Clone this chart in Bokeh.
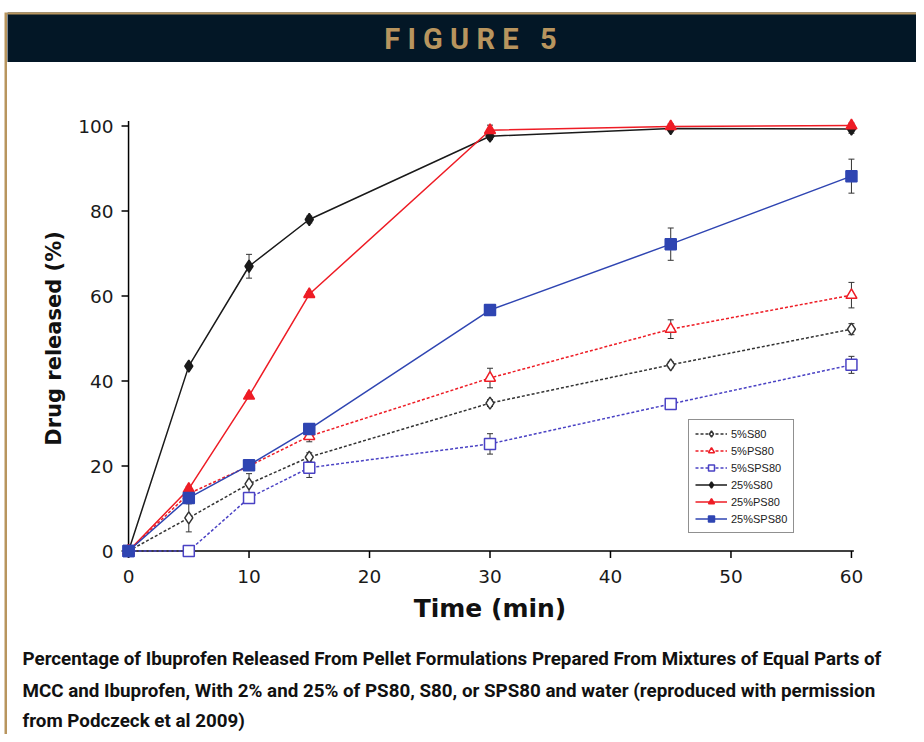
from bokeh.plotting import figure
from bokeh.models import Range1d, ColumnDataSource, Whisker, TeeHead, Legend, LegendItem, Spacer
from bokeh.layouts import row, column
from bokeh.core.properties import value
from bokeh.embed import file_html
from bokeh.resources import INLINE

# ---------------- data ----------------
time_min = [0, 5, 10, 15, 30, 45, 60]

pct_5_S80 = [0, 7.8, 15.8, 22.1, 34.8, 43.8, 52.2]
err_5_S80 = [0, 3.3, 2.4, 1.0, 0.8, 0.7, 1.3]
pct_5_PS80 = [0, 13.5, 20.0, 27.0, 40.7, 52.2, 60.2]
err_5_PS80 = [0, 0.8, 0.8, 1.3, 2.3, 2.2, 3.0]
pct_5_SPS80 = [0, 0, 12.5, 19.6, 25.2, 34.6, 43.8]
err_5_SPS80 = [0, 0, 1.0, 2.3, 2.4, 0.7, 2.0]
pct_25_S80 = [0, 43.5, 67.0, 78.0, 97.6, 99.4, 99.3]
err_25_S80 = [0, 0.5, 2.8, 0.8, 0.8, 0.5, 1.0]
pct_25_PS80 = [0, 14.6, 36.5, 60.4, 99.0, 99.9, 100.1]
err_25_PS80 = [0, 0.6, 0.6, 0.6, 1.2, 0.6, 0.6]
pct_25_SPS80 = [0, 12.5, 20.2, 28.7, 56.7, 72.2, 88.2]
err_25_SPS80 = [0, 1.0, 0.6, 0.8, 0.6, 3.8, 4.0]

series_labels = ["5%S80", "5%PS80", "5%SPS80", "25%S80", "25%PS80", "25%SPS80"]

x_ticks = [0, 10, 20, 30, 40, 50, 60]
y_ticks = [0, 20, 40, 60, 80, 100]

NB = "\u00a0"
header_text = NB.join("FIGURE") + NB * 3 + "5"
caption_lines = [
    "Percentage of Ibuprofen Released From Pellet Formulations Prepared From Mixtures of Equal Parts of",
    "MCC and Ibuprofen, With 2% and 25% of PS80, S80, or SPS80 and water (reproduced with permission",
    "from Podczeck et al 2009)",
]

# ---------------- styles ----------------
GOLD = "#b8955e"
NAVY = "#031726"
RED = "#ee1c25"
BLUE = "#2f45b2"
BLUE_D = "#4a42c4"
BLACK = "#1a1a1a"

W = 909
styles = [
    # values, errors, color, dash, marker, fill, size
    (pct_5_S80, err_5_S80, "#333333", "3 2", "diamond", "white", 12),
    (pct_5_PS80, err_5_PS80, RED, "3 2", "triangle", "white", 11),
    (pct_5_SPS80, err_5_SPS80, BLUE_D, "3 2", "square", "white", 11),
    (pct_25_S80, err_25_S80, BLACK, "solid", "diamond", BLACK, 12),
    (pct_25_PS80, err_25_PS80, RED, "solid", "triangle", RED, 11),
    (pct_25_SPS80, err_25_SPS80, BLUE, "solid", "square", BLUE, 11),
]

# ---------------- header ----------------
HH = 50
hdr = figure(width=W, height=HH, x_range=Range1d(0, W), y_range=Range1d(HH, 0),
             x_axis_type=None, y_axis_type=None, toolbar_location=None,
             output_backend="svg", min_border=0, background_fill_color=NAVY,
             border_fill_color=NAVY, outline_line_color=None, frame_align=False)
hdr.grid.visible = False
hdr.quad(left=[0], right=[W], top=[0], bottom=[1.5], color=GOLD)
hdr.text(x=[463], y=[26], text=[header_text], text_color=GOLD,
         text_font=value("Roboto"), text_font_style="bold", text_font_size="29px",
         text_align="center", text_baseline="middle")

# ---------------- chart ----------------
XMIN, XMAX = -1, 61
YMIN, YMAX = -2, 102
MB_L, MB_R, MB_T, MB_B = 109, 53, 55, 79
H = 576
frame_w = W - MB_L - MB_R
frame_h = H - MB_T - MB_B
px_x = frame_w / (XMAX - XMIN)
px_y = frame_h / (YMAX - YMIN)

p = figure(width=W, height=H, x_range=Range1d(XMIN, XMAX), y_range=Range1d(YMIN, YMAX),
           toolbar_location=None, output_backend="svg",
           min_border_left=MB_L, min_border_right=MB_R, min_border_top=MB_T,
           min_border_bottom=MB_B, background_fill_color="white",
           border_fill_color="white", outline_line_color=None, frame_align=False)
p.grid.visible = False

for ax in (p.xaxis[0], p.yaxis[0]):
    ax.axis_line_color = None
    ax.major_tick_line_color = None
    ax.minor_tick_line_color = None
    ax.major_tick_out = 0
    ax.major_tick_in = 0
    ax.major_label_text_font = "DejaVu Sans"
    ax.major_label_text_font_size = "18.5px"
    ax.major_label_text_color = "#1a1a1a"
    ax.axis_label_text_font = "DejaVu Sans"
    ax.axis_label_text_font_style = "bold"
    ax.axis_label_text_color = "#111111"

p.xaxis.ticker = x_ticks
p.yaxis.ticker = y_ticks
p.xaxis.axis_label = "Time (min)"
p.yaxis.axis_label = "Drug released (%)"
p.xaxis.axis_label_text_font_size = "25px"
p.yaxis.axis_label_text_font_size = "21px"
p.xaxis.major_label_standoff = 10
p.yaxis.major_label_standoff = 3
p.xaxis.axis_label_standoff = 8
p.yaxis.axis_label_standoff = 9

# manual axis lines at zero and outward ticks
tick_len = 7
p.segment(x0=[0], y0=[0], x1=[x_ticks[-1] + 0.2], y1=[0], line_color="black", line_width=1.5)
p.segment(x0=[0], y0=[0], x1=[0], y1=[y_ticks[-1] + 1.2], line_color="black", line_width=1.5)
p.segment(x0=x_ticks, y0=[0] * len(x_ticks), x1=x_ticks, y1=[-tick_len / px_y] * len(x_ticks),
          line_color="black", line_width=1.5)
p.segment(x0=[0] * len(y_ticks), y0=y_ticks, x1=[-tick_len / px_x] * len(y_ticks), y1=y_ticks,
          line_color="black", line_width=1.5)

line_rs, marker_rs = [], []
for vals, errs, color, dash, marker, fill, size in styles:
    src = ColumnDataSource(dict(x=time_min, y=vals))
    lr = p.line("x", "y", source=src, line_color=color, line_width=1.5, line_dash=dash)
    line_rs.append(lr)

for (vals, errs, color, dash, marker, fill, size) in styles:
    src = ColumnDataSource(dict(x=time_min, y=vals))
    mr = p.scatter("x", "y", source=src, marker=marker, size=size,
                   line_color=color, fill_color=fill, line_width=1.5)
    marker_rs.append(mr)

for (vals, errs, color, dash, marker, fill, size) in styles:
    xs = [t for t, e in zip(time_min, errs) if e > 0]
    lo = [v - e for v, e in zip(vals, errs) if e > 0]
    hi = [v + e for v, e in zip(vals, errs) if e > 0]
    wsrc = ColumnDataSource(dict(base=xs, lower=lo, upper=hi))
    w = Whisker(source=wsrc, base="base", lower="lower", upper="upper", dimension="height",
                line_color="#333333", line_width=1,
                upper_head=TeeHead(size=6, line_color="#333333", line_width=1),
                lower_head=TeeHead(size=6, line_color="#333333", line_width=1))
    p.add_layout(w)

items = [LegendItem(label=lab, renderers=[lr, mr])
         for lab, lr, mr in zip(series_labels, line_rs, marker_rs)]
legend = Legend(items=items, location=(572, 26), padding=6, spacing=2,
                glyph_width=32, glyph_height=15, label_height=15, label_standoff=4,
                label_text_font="Liberation Sans", label_text_font_size="11px",
                label_text_color="#222222", border_line_color="#222222",
                border_line_width=1, background_fill_color="white", background_fill_alpha=1)
p.add_layout(legend, "center")

# ---------------- caption ----------------
CH = 96
cap = figure(width=W, height=CH, x_range=Range1d(0, W), y_range=Range1d(CH, 0),
             x_axis_type=None, y_axis_type=None, toolbar_location=None,
             output_backend="svg", min_border=0, background_fill_color="white",
             border_fill_color="white", outline_line_color=None, frame_align=False)
cap.grid.visible = False
cap.text(x=[15, 15, 15], y=[20, 52, 82], text=caption_lines, text_color="#111111",
         text_font=value("Roboto"), text_font_style="bold",
         text_font_size="18.8px", text_align="left", text_baseline="middle")

# ---------------- gold border ----------------
gold = figure(width=3, height=HH + H + CH, x_axis_type=None, y_axis_type=None,
              toolbar_location=None, output_backend="svg", min_border=0,
              background_fill_color=GOLD, border_fill_color=GOLD, outline_line_color=None,
              frame_align=False)
gold.grid.visible = False

layout = column(Spacer(width=916, height=12),
                row(Spacer(width=4, height=HH + H + CH), gold, column(hdr, p, cap)))

open("out.html", "w").write(file_html(layout, INLINE))
